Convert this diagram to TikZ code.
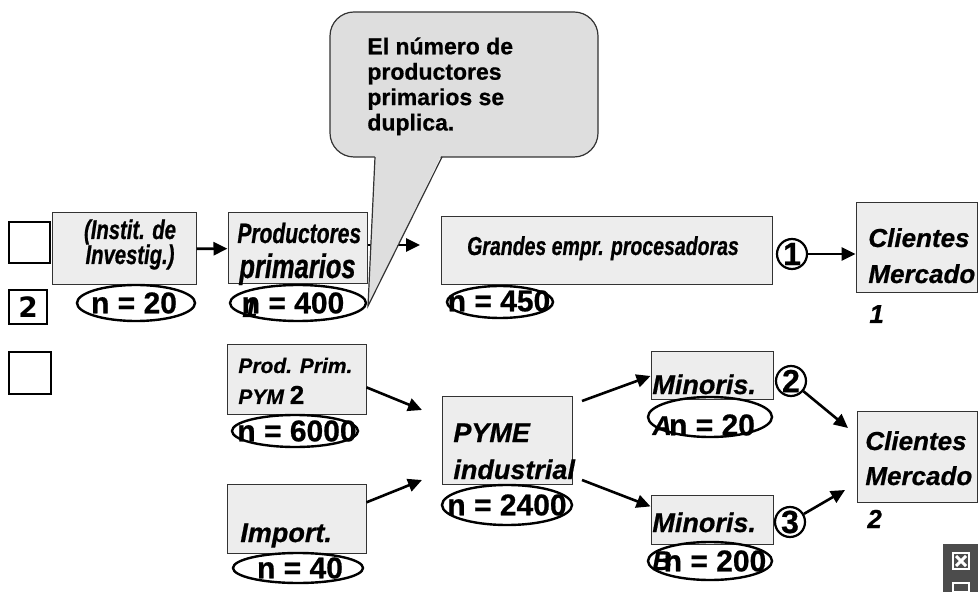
\documentclass[tikz,border=0pt]{standalone}
\usepackage{fontspec}
\setmainfont{Liberation Sans}[BoldFeatures={FakeBold=0.7},BoldItalicFeatures={FakeBold=0.7}]
\newfontfamily\condfont{Liberation Sans}[FakeStretch=0.75,BoldFeatures={FakeBold=0.7},BoldItalicFeatures={FakeBold=0.7}]
\newfontfamily\dejafont{DejaVu Sans}
\usetikzlibrary{arrows.meta,%
                shapes.geometric}
\newcommand{\fsz}[1]{\fontsize{#1pt}{#1pt}\selectfont}

\begin{document}
\begin{tikzpicture}[x=0.5pt,y=-0.5pt,>={Triangle[length=7pt,width=6.5pt]}]
  \tikzstyle{box}=[draw=black!80,fill=black!7,line width=0.5pt,inner sep=0pt]
  \tikzstyle{side}=[draw,line width=0.8pt,fill=white,inner sep=0pt]
  \tikzstyle{oval}=[draw,ellipse,line width=1.2pt,inner sep=0pt]
  \tikzstyle{ring}=[draw,circle,line width=1.1pt,inner sep=0pt,minimum size=15pt,font=\bfseries\fsz{16}]
  \tikzstyle{lab}=[inner sep=0pt,anchor=base west,font=\bfseries\itshape]
  \tikzstyle{num}=[inner sep=0pt,font=\bfseries\fsz{15}]
  \tikzstyle{arr}=[->,line width=1.3pt]
  \useasboundingbox (0,0) rectangle (978,592);

  % left column
  \node[side,minimum width=20.5pt,minimum height=20.5pt] (S_1) at (29.5,242.5) {};
  \node[side,minimum width=19pt,minimum height=17pt,font=\dejafont\bfseries\fsz{14}] (S_2) at (28,307) {2};
  \node[side,minimum width=21pt,minimum height=21pt] (S_3) at (30,373) {};

  % boxes
  \node[box,minimum width=72pt,minimum height=36pt] (B_1) at (124,249) {};
  \node[box,minimum width=69.5pt,minimum height=35.5pt] (B_2) at (297.5,248.5) {};
  \node[box,minimum width=165.5pt,minimum height=34pt] (B_3) at (606.5,251) {};
  \node[box,minimum width=60.5pt,minimum height=45pt] (K_1) at (916.5,248) {};
  \node[box,minimum width=69.5pt,minimum height=35pt] (B_5) at (296.5,380) {};
  \node[box,minimum width=69.5pt,minimum height=34.5pt] (B_6) at (296.5,518.5) {};
  \node[box,minimum width=65pt,minimum height=43.5pt] (B_7) at (507,440.5) {};
  \node[box,minimum width=61pt,minimum height=24pt] (B_8) at (712,376) {};
  \node[box,minimum width=61pt,minimum height=24.5pt] (B_9) at (712,519.5) {};
  \node[box,minimum width=60pt,minimum height=45pt] (K_2) at (917,457) {};

  % texts in the boxes
  \node[lab,anchor=base] (L_1) at (130,239) {\condfont\fsz{13.5}(Instit. de};
  \node[lab,anchor=base] (L_2) at (130,264) {\condfont\fsz{13.5}Investig.)};
  \node[lab] (L_3) at (237,243) {\condfont\fsz{14}Productores};
  \node[lab] (L_4) at (239,278) {\condfont\fsz{17}primarios};
  \node[lab,anchor=base] (L_6) at (603,255) {\condfont\fsz{13}Grandes empr. procesadoras};
  \node[lab] (L_7) at (868,247) {\fsz{13}Clientes};
  \node[lab] (L_8) at (868,283) {\fsz{13}Mercado};
  \node[lab] (L_9) at (869,323) {\fsz{13}1};
  \node[lab] (L_10) at (238,373) {\fsz{10.5}Prod. Prim.};
  \node[lab] (L_11) at (238,404) {\fsz{10.5}PYM \upshape\fsz{13}2};
  \node[lab] (L_12) at (453,442) {\fsz{13.5}PYME};
  \node[lab] (L_13) at (453,479) {\fsz{13.5}industrial};
  \node[lab] (L_14) at (240,542) {\fsz{13.5}Import.};
  \node[lab] (L_15) at (652,394) {\fsz{13.5}Minoris.};
  \node[lab] (L_17) at (652,532) {\fsz{13.5}Minoris.};
  \node[lab] (L_19) at (865,450) {\fsz{13}Clientes};
  \node[lab] (L_20) at (865,485) {\fsz{13}Mercado};
  \node[lab] (L_21) at (867,528) {\fsz{13}2};

  % counts
  \node[oval,minimum width=59pt,minimum height=18pt] (E_1) at (136,303) {};
  \node[num] (n_1) at (134,303) {n = 20};
  \node[oval,minimum width=68pt,minimum height=18pt] (E_2) at (298,303) {};
  \node[num] (n_2) at (293,303) {n = 400};
  \node[oval,minimum width=53pt,minimum height=16pt] (E_3) at (500,302) {};
  \node[num] (n_3) at (499,301) {n = 450};
  \node[oval,minimum width=63pt,minimum height=16pt] (E_4) at (295,431) {};
  \node[num] (n_4) at (297,431) {n = 6000};
  \node[oval,minimum width=65pt,minimum height=20pt] (E_5) at (507,505) {};
  \node[num] (n_5) at (507,505) {n = 2400};
  \node[oval,minimum width=65pt,minimum height=15pt] (E_6) at (298,568) {};
  \node[num] (n_6) at (300,568) {n = 40};
  \node[oval,minimum width=62pt,minimum height=20pt] (E_7) at (710,417) {};
  \node[num] (n_7) at (712,425) {n = 20};
  \node[oval,minimum width=62pt,minimum height=19pt] (E_8) at (710,561) {};
  \node[num] (n_8) at (715,561) {n = 200};
  \node[lab] (L_5) at (242,317) {\fsz{13.5}1};
  \node[lab] (L_16) at (652,435) {\fsz{13.5}A};
  \node[lab] (L_18) at (652,570) {\fsz{13.5}B};

  % markets
  \node[ring] (C_1) at (792,254) {1};
  \node[ring] (C_2) at (791,381) {2};
  \node[ring] (C_3) at (790,522) {3};

  % flows
  \coordinate (a_1) at (420,245);
  \coordinate (a_2) at (422,410);
  \coordinate (a_3) at (422,480);
  \coordinate (a_4) at (582,401);
  \coordinate (a_5) at (582,480);
  \coordinate (a_6) at (848,428);
  \coordinate (a_7) at (845,490);
  \draw[arr] (B_1) -- (B_2);
  \draw[arr] (B_2.east |- a_1) -- (a_1);
  \draw[arr] (C_1) -- (C_1 -| K_1.west);
  \draw[arr] (B_5.-6) -- (a_2);
  \draw[arr] (B_6.13) -- (a_3);
  \draw[arr] (a_4) -- (B_8.west);
  \draw[arr] (a_5) -- (B_9.168);
  \draw[arr] (C_2) -- (a_6);
  \draw[arr] (C_3) -- (a_7);

  % callout
  \draw[rounded corners=12pt,draw=black!80,fill=black!13,line width=0.6pt] (330,12) rectangle (598,157);
  \fill[black!13] (375,154) -- (368,306) -- (442,154) -- cycle;
  \draw[draw=black!80,line width=0.6pt] (375,157) -- (368,306) -- (442,157);
  \node[anchor=north west,align=left,inner sep=0pt,font=\bfseries\fontsize{11.5pt}{12.7pt}\selectfont] (T_1) at (367,37) {El número de\\productores\\primarios se\\duplica.};

  % corner icon
  \fill[black!70] (943,544) rectangle (978,592);
  \draw[white,line width=0.8pt] (953,553) rectangle (969,569);
  \draw[white,line width=1.5pt] (956,556) -- (966,566) (966,556) -- (956,566);
  \draw[white,line width=0.8pt] (953,583) rectangle (969,592);
\end{tikzpicture}
\end{document}
